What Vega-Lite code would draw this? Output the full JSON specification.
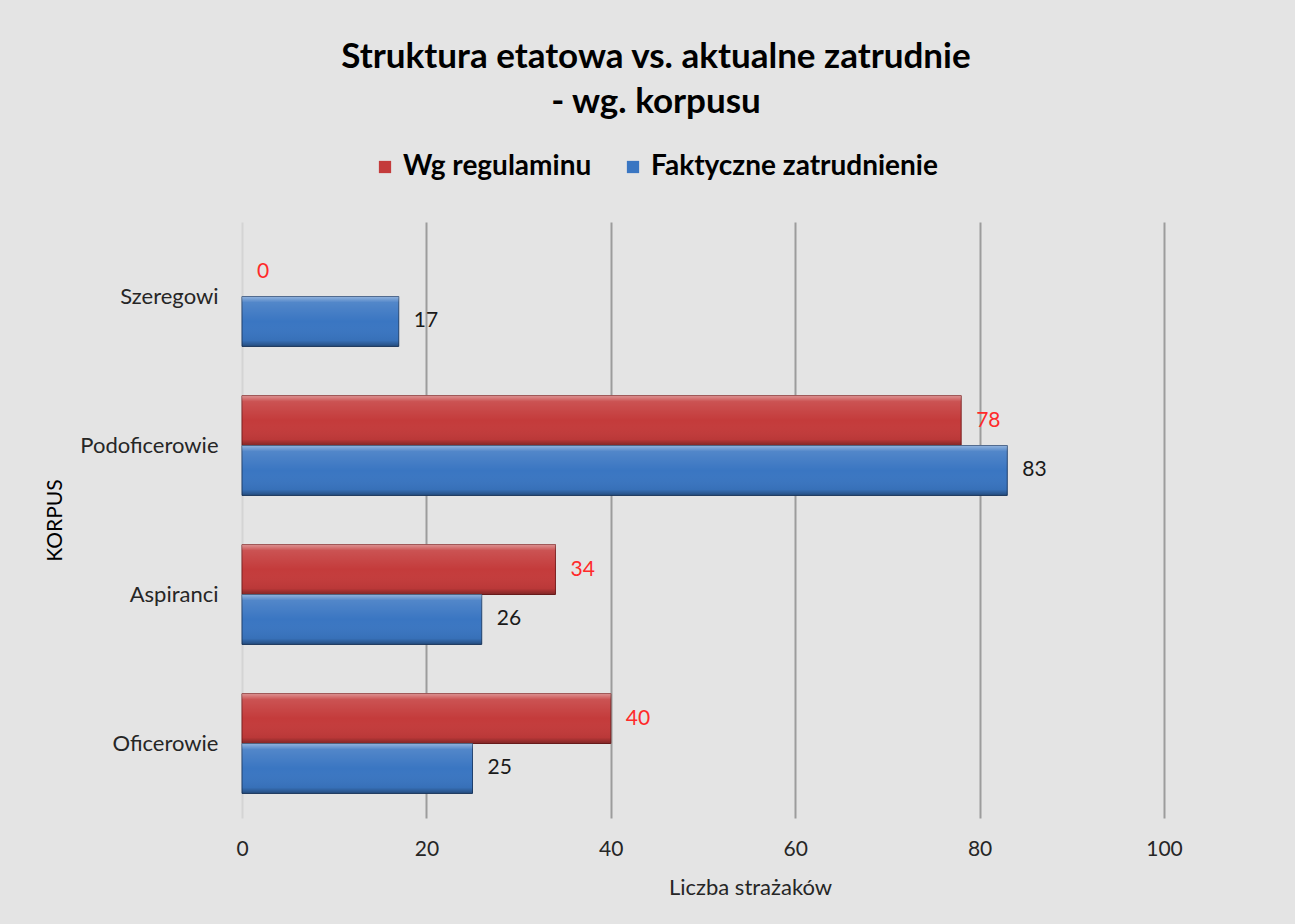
{
  "$schema": "https://vega.github.io/schema/vega-lite/v6.json",
  "width": 922,
  "height": 596,
  "autosize": {"type": "none"},
  "padding": {"left": 242, "top": 222, "right": 131, "bottom": 106},
  "background": "#e4e4e4",
  "config": {"view": {"stroke": null}, "font": "Lato"},
  "title": {
    "text": ["Struktura etatowa vs. aktualne zatrudnie", "- wg. korpusu"],
    "font": "Lato",
    "fontSize": 35,
    "fontWeight": "bold",
    "color": "#000000",
    "anchor": "middle",
    "frame": "group",
    "dx": -47,
    "offset": 33,
    "lineHeight": 45
  },
  "data": {
    "values": [
      {"korpus": "Szeregowi", "seria": "Wg regulaminu", "wartosc": 0},
      {"korpus": "Szeregowi", "seria": "Faktyczne zatrudnienie", "wartosc": 17},
      {"korpus": "Podoficerowie", "seria": "Wg regulaminu", "wartosc": 78},
      {"korpus": "Podoficerowie", "seria": "Faktyczne zatrudnienie", "wartosc": 83},
      {"korpus": "Aspiranci", "seria": "Wg regulaminu", "wartosc": 34},
      {"korpus": "Aspiranci", "seria": "Faktyczne zatrudnienie", "wartosc": 26},
      {"korpus": "Oficerowie", "seria": "Wg regulaminu", "wartosc": 40},
      {"korpus": "Oficerowie", "seria": "Faktyczne zatrudnienie", "wartosc": 25}
    ]
  },
  "encoding": {
    "y": {
      "field": "korpus",
      "type": "nominal",
      "sort": ["Szeregowi", "Podoficerowie", "Aspiranci", "Oficerowie"],
      "scale": {"paddingInner": 0.33, "paddingOuter": 0.165},
      "axis": {
        "title": "KORPUS",
        "titleFont": "Lato",
        "titleFontSize": 21,
        "titleFontWeight": "normal",
        "titleColor": "#000000",
        "titleX": -187,
        "titleY": 298,
        "titleAngle": -90,
        "titleBaseline": "middle",
        "titleAlign": "center",
        "labelFont": "Lato",
        "labelFontSize": 22,
        "labelColor": "#262626",
        "labelPadding": 24,
        "labelLimit": 300,
        "ticks": false,
        "domain": false,
        "grid": false
      }
    },
    "yOffset": {
      "field": "seria",
      "sort": ["Wg regulaminu", "Faktyczne zatrudnienie"],
      "scale": {"paddingInner": 0, "paddingOuter": 0}
    },
    "x": {
      "field": "wartosc",
      "type": "quantitative",
      "scale": {"domain": [0, 100]},
      "axis": {
        "values": [0, 20, 40, 60, 80, 100],
        "title": "Liczba strażaków",
        "titleFont": "Lato",
        "titleFontSize": 22,
        "titleFontWeight": "normal",
        "titleColor": "#262626",
        "titleX": 508,
        "titleY": 69,
        "titleBaseline": "middle",
        "labelFont": "Lato",
        "labelFontSize": 21,
        "labelColor": "#262626",
        "labelPadding": 20,
        "labelFlush": false,
        "ticks": false,
        "domain": false,
        "grid": true,
        "gridColor": {"condition": {"test": "datum.value === 0", "value": "#d4d4d4"}, "value": "#9c9c9c"},
        "gridWidth": 2
      }
    }
  },
  "layer": [
    {
      "mark": {"type": "bar"},
      "encoding": {
        "color": {
          "field": "seria",
          "type": "nominal",
          "scale": {"domain": ["Wg regulaminu", "Faktyczne zatrudnienie"], "range": ["#c43b3b", "#3a76c2"]},
          "legend": {
            "orient": "none",
            "legendX": 129,
            "legendY": -69,
            "direction": "horizontal",
            "title": null,
            "symbolType": "square",
            "symbolSize": 150,
            "symbolStrokeWidth": 0,
            "labelFont": "Lato",
            "labelFontSize": 28,
            "labelFontWeight": "bold",
            "labelColor": "#000000",
            "labelOffset": 4,
            "labelLimit": 400,
            "columnPadding": 27
          }
        },
        "stroke": {
          "field": "seria",
          "type": "nominal",
          "scale": {"domain": ["Wg regulaminu", "Faktyczne zatrudnienie"], "range": ["#7d2020", "#1f406e"]},
          "legend": null
        },
        "strokeWidth": {"condition": {"test": "datum.wartosc === 0", "value": 0}, "value": 1}
      }
    },
    {
      "mark": {
        "type": "bar",
        "fill": {
          "gradient": "linear",
          "x1": 0, "y1": 0, "x2": 0, "y2": 1,
          "stops": [
            {"offset": 0, "color": "rgba(255,255,255,0.45)"},
            {"offset": 0.12, "color": "rgba(255,255,255,0.12)"},
            {"offset": 0.5, "color": "rgba(255,255,255,0)"},
            {"offset": 0.88, "color": "rgba(0,0,0,0.05)"},
            {"offset": 1, "color": "rgba(0,0,0,0.35)"}
          ]
        }
      },
      "encoding": {}
    },
    {
      "mark": {"type": "text", "align": "left", "baseline": "middle", "dx": 15, "font": "Lato", "fontSize": 21},
      "encoding": {
        "text": {"field": "wartosc", "type": "quantitative"},
        "color": {"condition": {"test": "datum.seria === 'Wg regulaminu'", "value": "#ff2a2a"}, "value": "#1a1a1a"}
      }
    }
  ]
}
